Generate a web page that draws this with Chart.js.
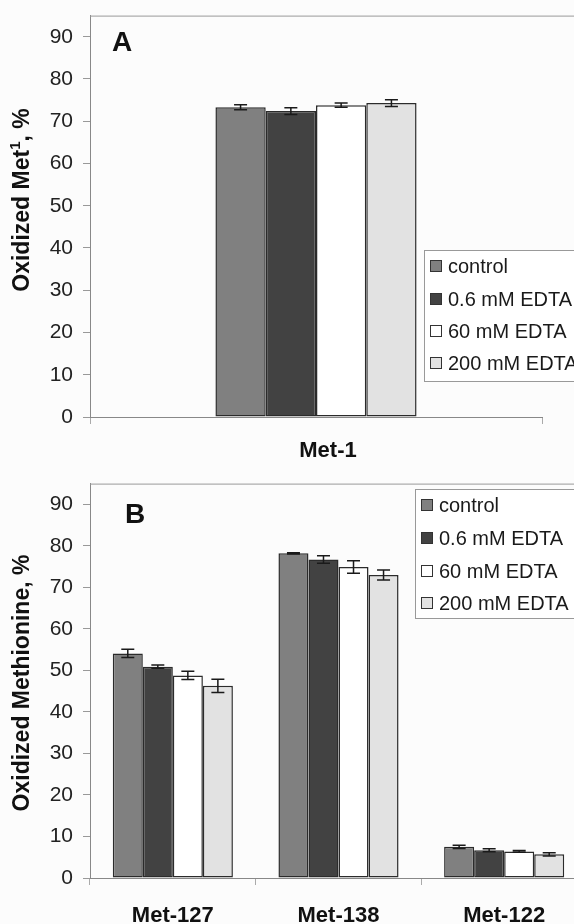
<!DOCTYPE html>
<html>
<head>
<meta charset="utf-8">
<script src="https://cdn.jsdelivr.net/npm/chart.js@4.4.1/dist/chart.umd.min.js"></script>
<style>
  html, body { margin: 0; padding: 0; background: #fcfcfc; overflow: hidden; }
  body { width: 574px; height: 924px; position: relative; }
  canvas { position: absolute; left: 0; }
  #chartA { top: -7px; }
  #chartB { top: 461px; }
</style>
</head>
<body>
<canvas id="chartA" width="620" height="477"></canvas>
<canvas id="chartB" width="620" height="463"></canvas>

<script>
// series names (shared by both panels)
const seriesLabels = ['control', '0.6 mM EDTA', '60 mM EDTA', '200 mM EDTA'];

// panel A
const catsA = ['Met-1'];
const ctrlA = [73.3];
const edta06A = [72.4];
const edta60A = [73.8];
const edta200A = [74.3];
const ctrlAErr = [0.6];
const edta06AErr = [0.8];
const edta60AErr = [0.5];
const edta200AErr = [0.8];

// panel B
const catsB = ['Met-127', 'Met-138', 'Met-122'];
const ctrlB = [54.1, 78.2, 7.5];
const edta06B = [50.9, 76.7, 6.7];
const edta60B = [48.8, 74.9, 6.4];
const edta200B = [46.3, 73.0, 5.7];
const ctrlBErr = [1.0, 0.15, 0.4];
const edta06BErr = [0.4, 0.9, 0.35];
const edta60BErr = [1.0, 1.5, 0.2];
const edta200BErr = [1.6, 1.2, 0.4];

const yTicks = [0, 10, 20, 30, 40, 50, 60, 70, 80, 90];

const fills = ['#808080', '#424242', '#ffffff', '#e2e2e2'];
const FONT = '"Liberation Sans", Arial, sans-serif';

var makeDatasets = function(vals, errs) {
  return vals.map((v, i) => ({
    label: seriesLabels[i],
    data: v,
    errors: errs[i],
    backgroundColor: fills[i],
    borderColor: '#2b2b2b',
    borderWidth: 1.5,
    borderSkipped: false
  }));
}

// error bars, frame, panel letter, axis title and boxed legend
const panelDeco = {
  id: 'panelDeco',
  afterDatasetsDraw(chart) {
    const ctx = chart.ctx, y = chart.scales.y;
    ctx.save();
    ctx.strokeStyle = '#1a1a1a';
    ctx.lineWidth = 1.5;
    chart.data.datasets.forEach((ds, di) => {
      chart.getDatasetMeta(di).data.forEach((bar, i) => {
        const v = ds.data[i], e = ds.errors[i];
        const y1 = y.getPixelForValue(v + e), y2 = y.getPixelForValue(v - e);
        ctx.beginPath();
        ctx.moveTo(bar.x, y1); ctx.lineTo(bar.x, y2);
        ctx.moveTo(bar.x - 6.5, y1); ctx.lineTo(bar.x + 6.5, y1);
        ctx.moveTo(bar.x - 6.5, y2); ctx.lineTo(bar.x + 6.5, y2);
        ctx.stroke();
      });
    });
    ctx.restore();
  },
  afterDraw(chart, args, o) {
    const ctx = chart.ctx, area = chart.chartArea;
    ctx.save();
    // top frame line
    ctx.strokeStyle = '#999';
    ctx.lineWidth = 1;
    ctx.beginPath();
    ctx.moveTo(area.left, area.top + 0.5);
    ctx.lineTo(chart.width, area.top + 0.5);
    ctx.stroke();

    // panel letter
    ctx.fillStyle = '#111';
    ctx.font = 'bold 28px ' + FONT;
    ctx.textAlign = 'center';
    ctx.textBaseline = 'middle';
    ctx.fillText(o.letter, o.letterX, o.letterY);

    // rotated y title with optional superscript
    ctx.save();
    ctx.translate(o.titleX, o.titleY);
    ctx.rotate(-Math.PI / 2);
    ctx.textAlign = 'left';
    let total = 0;
    o.title.forEach(p => {
      ctx.font = 'bold ' + (p[1] ? 15 : 23) + 'px ' + FONT;
      total += ctx.measureText(p[0]).width;
    });
    let x = -total / 2;
    o.title.forEach(p => {
      ctx.font = 'bold ' + (p[1] ? 15 : 23) + 'px ' + FONT;
      ctx.fillText(p[0], x, p[1] ? -7 : 0);
      x += ctx.measureText(p[0]).width;
    });
    ctx.restore();

    // legend box
    const lg = o.legend;
    ctx.fillStyle = '#fff';
    ctx.fillRect(lg.x, lg.y, chart.width - lg.x + 5, lg.h);
    ctx.strokeStyle = '#999';
    ctx.strokeRect(lg.x + 0.5, lg.y + 0.5, chart.width, lg.h);
    ctx.font = '20px ' + FONT;
    ctx.textAlign = 'left';
    ctx.textBaseline = 'middle';
    chart.data.datasets.forEach((ds, i) => {
      const ry = lg.rows[i];
      ctx.fillStyle = ds.backgroundColor;
      ctx.fillRect(lg.x + 6.5, ry - 5.5, 11, 11);
      ctx.strokeStyle = '#333';
      ctx.strokeRect(lg.x + 6.5, ry - 5.5, 11, 11);
      ctx.fillStyle = '#1a1a1a';
      ctx.fillText(ds.label, lg.x + 24, ry + 1);
    });
    ctx.restore();
  }
};

var makeChart = function(id, cats, datasets, cfg) {
  return new Chart(document.getElementById(id), {
    type: 'bar',
    data: { labels: cats, datasets: datasets },
    plugins: [panelDeco],
    options: {
      responsive: false,
      animation: false,
      layout: { padding: { top: 0, left: 0, right: cfg.right, bottom: 0 } },
      datasets: { bar: { barPercentage: 1, categoryPercentage: cfg.catPct } },
      plugins: {
        legend: { display: false },
        tooltip: { enabled: false },
        panelDeco: cfg.deco
      },
      scales: {
        x: {
          grid: { drawOnChartArea: false, tickLength: 7, color: '#aaa' },
          border: { color: '#888', width: 1 },
          ticks: {
            color: '#111',
            padding: cfg.xPad,
            labelOffset: cfg.labelOffset,
            font: { family: FONT, size: 22, weight: 'bold' }
          },
          afterFit: s => { s.height = cfg.xH; }
        },
        y: {
          min: 0,
          max: 95,
          grid: { drawOnChartArea: false, tickLength: 7, color: '#999' },
          border: { color: '#888', width: 1 },
          ticks: {
            stepSize: 10,
            color: '#222',
            padding: 10,
            font: { family: FONT, size: 21 }
          },
          afterBuildTicks: s => { s.ticks = yTicks.map(v => ({ value: v })); },
          afterFit: s => { s.width = cfg.yW; }
        }
      }
    }
  });
}

makeChart('chartA', catsA,
  makeDatasets([ctrlA, edta06A, edta60A, edta200A], [ctrlAErr, edta06AErr, edta60AErr, edta200AErr]),
  {
    right: 78, catPct: 0.445, xPad: 14, labelOffset: 12, xH: 53, yW: 90,
    deco: {
      letter: 'A', letterX: 122, letterY: 50,
      title: [['Oxidized Met', false], ['1', true], [', %', false]],
      titleX: 23, titleY: 207,
      legend: { x: 424, y: 257, h: 131, rows: [273, 306, 338, 370] }
    }
  });

makeChart('chartB', catsB,
  makeDatasets([ctrlB, edta06B, edta60B, edta200B], [ctrlBErr, edta06BErr, edta60BErr, edta200BErr]),
  {
    right: 33, catPct: 0.725, xPad: 18, labelOffset: 0, xH: 46, yW: 90,
    deco: {
      letter: 'B', letterX: 135, letterY: 54,
      title: [['Oxidized Methionine, %', false]],
      titleX: 23, titleY: 222,
      legend: { x: 415, y: 28, h: 129, rows: [44, 77, 110, 142] }
    }
  });
</script>
</body>
</html>
